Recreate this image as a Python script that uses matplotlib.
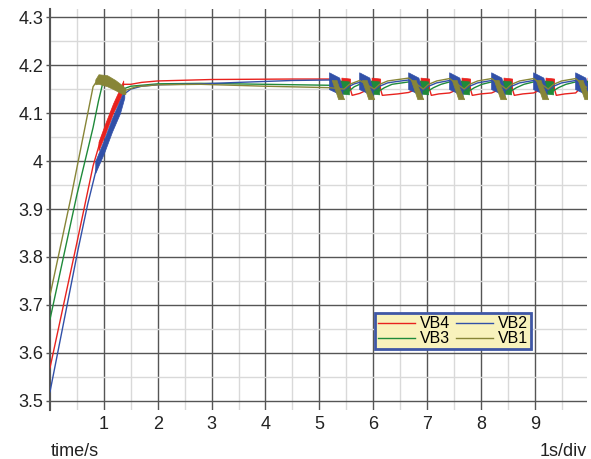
import numpy as np
import matplotlib.pyplot as plt
from matplotlib.lines import Line2D
from matplotlib.ticker import MultipleLocator, FuncFormatter

plt.rcParams["font.family"] = ["Liberation Sans", "DejaVu Sans"]

# ---- traces (time in s, voltage in V) ----
BURST_T = [5.19, 5.75, 6.66, 7.42, 8.20, 8.98, 9.76]

VB4_T = [0.00, 0.50, 0.80, 0.93, 1.02, 1.17, 1.30, 1.36, 1.50, 1.70, 2.00, 3.00, 4.50, 5.19,
         5.55, 5.61, 5.75,
         6.11, 6.17, 6.46, 6.66,
         7.02, 7.08, 7.22, 7.42,
         7.78, 7.84, 8.00, 8.20,
         8.56, 8.62, 8.78, 8.98,
         9.34, 9.40, 9.56, 9.76, 10.0]
VB4_V = [3.569, 3.830, 3.990, 4.040, 4.065, 4.110, 4.140, 4.160, 4.160, 4.164, 4.167, 4.170, 4.171, 4.171,
         4.160, 4.137, 4.141,
         4.160, 4.137, 4.140, 4.143,
         4.160, 4.137, 4.140, 4.142,
         4.160, 4.137, 4.140, 4.142,
         4.160, 4.137, 4.140, 4.142,
         4.160, 4.137, 4.140, 4.142, 4.170]

VB2_T = [0.00, 0.52, 0.70, 0.875, 1.00, 1.15, 1.30, 1.38, 1.50, 1.70, 2.00, 2.80, 3.50, 4.50, 5.19,
         5.46, 5.56, 5.65, 5.75,
         6.02, 6.12, 6.27, 6.45, 6.66,
         6.93, 7.03, 7.18, 7.42,
         7.69, 7.79, 7.94, 8.20,
         8.47, 8.57, 8.72, 8.98,
         9.25, 9.35, 9.50, 9.76, 10.0]
VB2_V = [3.519, 3.815, 3.910, 3.990, 4.030, 4.075, 4.115, 4.140, 4.150, 4.156, 4.159, 4.161, 4.164, 4.168, 4.169,
         4.148, 4.156, 4.161, 4.164,
         4.148, 4.156, 4.163, 4.166, 4.169,
         4.148, 4.156, 4.163, 4.168,
         4.148, 4.156, 4.163, 4.168,
         4.148, 4.156, 4.163, 4.168,
         4.148, 4.156, 4.163, 4.168, 4.148]

VB3_T = [0.00, 0.50, 0.80, 0.90, 0.97, 1.00, 1.20, 1.35, 1.50, 2.00, 2.80, 4.00, 5.19,
         5.55, 5.65, 5.75,
         6.11, 6.21, 6.35, 6.66,
         7.02, 7.12, 7.26, 7.42,
         7.78, 7.88, 8.02, 8.20,
         8.56, 8.66, 8.80, 8.98,
         9.34, 9.44, 9.58, 9.76, 10.0]
VB3_V = [3.670, 3.930, 4.070, 4.125, 4.158, 4.165, 4.152, 4.150, 4.156, 4.161, 4.162, 4.160, 4.158,
         4.146, 4.155, 4.160,
         4.146, 4.153, 4.160, 4.165,
         4.146, 4.153, 4.160, 4.165,
         4.146, 4.153, 4.160, 4.165,
         4.146, 4.153, 4.160, 4.165,
         4.146, 4.153, 4.160, 4.165, 4.146]

VB1_T = [0.00, 0.40, 0.80, 0.90, 1.10, 1.30, 1.42, 1.60, 2.00, 2.80, 4.00, 5.19,
         5.46, 5.56, 5.75,
         6.02, 6.12, 6.27, 6.66,
         6.93, 7.03, 7.18, 7.42,
         7.69, 7.79, 7.94, 8.20,
         8.47, 8.57, 8.72, 8.98,
         9.25, 9.35, 9.50, 9.76, 10.0]
VB1_V = [3.720, 3.930, 4.155, 4.172, 4.168, 4.150, 4.148, 4.155, 4.159, 4.160, 4.156, 4.153,
         4.150, 4.160, 4.168,
         4.150, 4.160, 4.167, 4.173,
         4.150, 4.160, 4.167, 4.172,
         4.150, 4.160, 4.167, 4.172,
         4.150, 4.160, 4.167, 4.172,
         4.150, 4.160, 4.167, 4.172, 4.150]

# ---- fast switching bands during charge-up (envelopes) ----
VB4_BAND_T = [0.90, 1.02, 1.17, 1.30, 1.36]
VB4_BAND_HI = [4.040, 4.077, 4.120, 4.152, 4.168]
VB4_BAND_LO = [4.022, 4.055, 4.100, 4.130, 4.148]

VB2_BAND_T = [0.84, 1.00, 1.15, 1.30, 1.38]
VB2_BAND_HI = [4.000, 4.044, 4.089, 4.128, 4.150]
VB2_BAND_LO = [3.975, 4.016, 4.061, 4.100, 4.132]

VB1_BAND_T = [0.84, 0.90, 1.06, 1.21, 1.34, 1.40]
VB1_BAND_HI = [4.170, 4.181, 4.179, 4.169, 4.158, 4.150]
VB1_BAND_LO = [4.160, 4.161, 4.156, 4.148, 4.140, 4.140]

# ---- balancing bursts (envelope, time relative to each burst start) ----
VB4_BURST_DT = [0.22, 0.38]
VB4_BURST_HI = [4.174, 4.172]
VB4_BURST_LO = [4.150, 4.150]

VB3_BURST_DT = [0.20, 0.36]
VB3_BURST_HI = [4.168, 4.166]
VB3_BURST_LO = [4.141, 4.139]

VB2_BURST_DT = [-0.01, 0.18, 0.24]
VB2_BURST_HI = [4.185, 4.174, 4.148]
VB2_BURST_LO = [4.150, 4.140, 4.132]

VB1_BURST_DT = [0.04, 0.13, 0.16, 0.27]
VB1_BURST_HI = [4.169, 4.169, 4.158, 4.129]
VB1_BURST_LO = [4.169, 4.139, 4.129, 4.129]

C_VB4 = "#e8221e"
C_VB2 = "#3150a8"
C_VB3 = "#1f8a3a"
C_VB1 = "#878537"


def draw_trace(ax, t, v, color, band=None, burst=None):
    ax.plot(t, v, color=color, linewidth=1.0, zorder=3)
    if band is not None:
        bt, hi, lo = band
        ax.fill_between(bt, lo, hi, color=color, linewidth=0.5, zorder=3)
    if burst is not None:
        dt, hi, lo = burst
        for tb in BURST_T:
            ax.fill_between(tb + np.array(dt), lo, hi, color=color, linewidth=0.5, zorder=3)


fig = plt.figure(figsize=(5.91, 4.59), dpi=100)
ax = fig.add_axes([50 / 591, 49 / 459, 537 / 591, 401 / 459])

draw_trace(ax, VB4_T, VB4_V, C_VB4, (VB4_BAND_T, VB4_BAND_HI, VB4_BAND_LO),
           (VB4_BURST_DT, VB4_BURST_HI, VB4_BURST_LO))
draw_trace(ax, VB3_T, VB3_V, C_VB3, None, (VB3_BURST_DT, VB3_BURST_HI, VB3_BURST_LO))
draw_trace(ax, VB2_T, VB2_V, C_VB2, (VB2_BAND_T, VB2_BAND_HI, VB2_BAND_LO),
           (VB2_BURST_DT, VB2_BURST_HI, VB2_BURST_LO))
draw_trace(ax, VB1_T, VB1_V, C_VB1, (VB1_BAND_T, VB1_BAND_HI, VB1_BAND_LO),
           (VB1_BURST_DT, VB1_BURST_HI, VB1_BURST_LO))

ax.set_xlim(0, 9.97)
ax.set_ylim(3.481, 4.317)

ax.set_xticks(range(1, 10))
ax.xaxis.set_minor_locator(MultipleLocator(0.5))
ax.set_yticks(np.arange(3.5, 4.31, 0.1))
ax.yaxis.set_minor_locator(MultipleLocator(0.05))
ax.yaxis.set_major_formatter(FuncFormatter(lambda v, p: f"{round(v, 2):g}"))

ax.grid(True, which="major", color="#555555", linewidth=1.0, zorder=1)
ax.grid(True, which="minor", color="#d9d9d9", linewidth=1.0, zorder=0)
ax.set_axisbelow(True)
ax.tick_params(axis="x", which="both", length=0, labelsize=13, pad=4, colors="#222222")
ax.tick_params(axis="y", which="major", length=3, width=1, labelsize=13, pad=2,
               color="#555555", labelcolor="#222222")
ax.tick_params(axis="y", which="minor", length=0)

for s in ["top", "right", "bottom"]:
    ax.spines[s].set_visible(False)
ax.spines["left"].set_color("#555555")
ax.spines["left"].set_linewidth(1.5)

fig.text(51 / 591, 1 - 451 / 459, "time/s", fontsize=13, va="center", ha="left", color="#222222")
fig.text(587 / 591, 1 - 451 / 459, "1s/div", fontsize=13, va="center", ha="right", color="#222222")

handles = [Line2D([0], [0], color=C_VB4, linewidth=1.0),
           Line2D([0], [0], color=C_VB3, linewidth=1.0),
           Line2D([0], [0], color=C_VB2, linewidth=1.0),
           Line2D([0], [0], color=C_VB1, linewidth=1.0)]
leg = ax.legend(handles, ["VB4", "VB3", "VB2", "VB1"], ncol=2, loc="upper left",
                bbox_to_anchor=(0.605, 0.242), borderaxespad=0, fontsize=11.5,
                handlelength=2.3, handletextpad=0.3, columnspacing=0.4,
                labelspacing=0.0, borderpad=0.2, fancybox=False, framealpha=1)
leg.get_frame().set_facecolor("#f8f2bc")
leg.get_frame().set_edgecolor("#3f57a6")
leg.get_frame().set_linewidth(2.0)
leg.set_zorder(5)

fig.savefig("out.png", dpi=100)
